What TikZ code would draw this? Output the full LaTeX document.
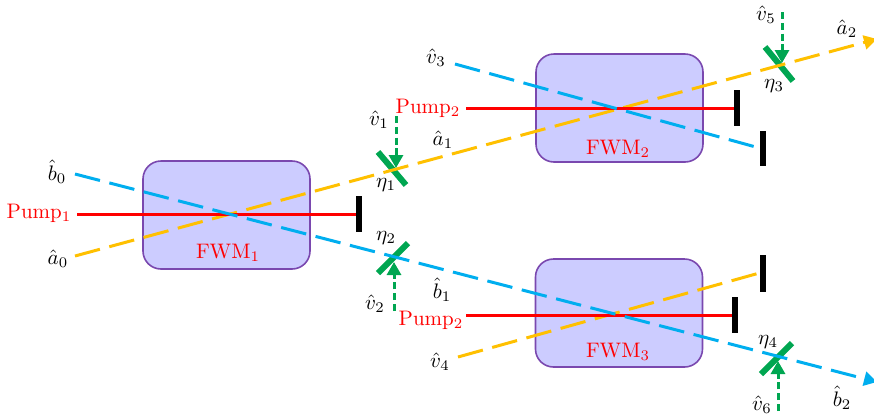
\documentclass[tikz,border=0pt]{standalone}
\usetikzlibrary{arrows.meta}
\definecolor{beamB}{RGB}{0,174,239}
\definecolor{beamY}{RGB}{255,192,0}
\definecolor{beamG}{RGB}{0,166,81}
\definecolor{boxF}{RGB}{204,204,255}
\definecolor{boxD}{RGB}{122,72,175}
\tikzset{
  x=0.5pt,y=-0.5pt,
  crystal/.style={draw=boxD,fill=boxF,line width=0.8pt,rounded corners=9pt,minimum width=83.5pt,minimum height=54pt,inner sep=0pt},
  blue beam/.style={beamB,line width=1.5pt,dash pattern=on 12.9pt off 4.85pt},
  yellow beam/.style={beamY,line width=1.5pt,dash pattern=on 12.9pt off 4.85pt},
  pump beam/.style={red,line width=1.5pt},
  vac/.style={beamG,line width=1.5pt,dash pattern=on 3.6pt off 1.8pt,-{Triangle[length=6.5pt,width=7pt,fill=beamG]}},
  mirror/.style={beamG,line width=3pt},
  block/.style={black,line width=3pt},
  lab/.style={inner sep=0pt,scale=1.05},
  redlab/.style={lab,text=red},
}
\begin{document}
\begin{tikzpicture}
\useasboundingbox (0,0) rectangle (874,414);
% crystals
\node[crystal] (F1) at (226.5,215) {};
\node[crystal] (F2) at (619.5,108) {};
\node[crystal] (F3) at (619,313) {};
\node[redlab] (F1t) at (228,253) {FWM$_1$};
\node[redlab] (F2t) at (618,149) {FWM$_2$};
\node[redlab] (F3t) at (618,352) {FWM$_3$};
% end points
\coordinate (b0) at (75,174);
\coordinate (b2) at (877,382);
\coordinate (a0) at (75,256);
\coordinate (a2) at (877,39);
\coordinate (p1s) at (77,214);
\coordinate (v3s) at (455,64);
\coordinate (v4s) at (458,357);
\coordinate (p2s) at (466,108);
\coordinate (p3s) at (466,315);
% blocks
\coordinate (W1a) at (358.5,196); \coordinate (W1b) at (358.5,232);
\coordinate (W1) at (358.5,214);
\coordinate (W2a) at (737,90); \coordinate (W2b) at (737,126);
\coordinate (W2) at (737,108);
\coordinate (W3a) at (763,131); \coordinate (W3b) at (763,166);
\coordinate (W3) at (763,149);
\coordinate (W4a) at (763,255); \coordinate (W4b) at (763,292);
\coordinate (W4) at (763,272);
\coordinate (W5a) at (735,297); \coordinate (W5b) at (735,333);
\coordinate (W5) at (735,315);
% mirrors
\coordinate (M1a) at (378,152); \coordinate (M1b) at (406,185);
\coordinate (M2a) at (378,273); \coordinate (M2b) at (408,243);
\coordinate (M3a) at (765,47);  \coordinate (M3b) at (793,81);
\coordinate (M4a) at (761,374); \coordinate (M4b) at (792,343);
% vacuum inputs
\coordinate (v1s) at (396,116); \coordinate (v1e) at (396,168);
\coordinate (v2s) at (394,311); \coordinate (v2e) at (394,262);
\coordinate (v5s) at (782,12);  \coordinate (v5e) at (782,63);
\coordinate (v6s) at (778,411); \coordinate (v6e) at (778,361);
% mirrors below the beams
\draw[mirror] (M1a) -- (M1b);
\draw[mirror] (M2a) -- (M2b);
\draw[mirror] (M3a) -- (M3b);
\draw[mirror] (M4a) -- (M4b);
% beams
\draw[yellow beam,-{Triangle[length=6.5pt,width=7pt,fill=beamY]}] (a0) -- (a2);
\draw[yellow beam] (v4s) -- (W4);
\draw[pump beam] (p1s) -- (W1);
\draw[pump beam] (p2s) -- (W2);
\draw[pump beam] (p3s) -- (W5);
\draw[blue beam,-{Triangle[length=6.5pt,width=7pt,fill=beamB]}] (b0) -- (b2);
\draw[blue beam] (v3s) -- (W3);
% blocks
\draw[block] (W1a) -- (W1b);
\draw[block] (W2a) -- (W2b);
\draw[block] (W3a) -- (W3b);
\draw[block] (W4a) -- (W4b);
\draw[block] (W5a) -- (W5b);
\draw[vac] (v1s) -- (v1e);
\draw[vac] (v2s) -- (v2e);
\draw[vac] (v5s) -- (v5e);
\draw[vac] (v6s) -- (v6e);
% labels
\node[redlab] (Lp1) at (39,213) {Pump$_1$};
\node[redlab] (Lp2) at (428,108) {Pump$_2$};
\node[redlab] (Lp3) at (431,320) {Pump$_2$};
\node[lab] (Lb0) at (57,172) {$\hat{b}_0$};
\node[lab] (La0) at (58,259) {$\hat{a}_0$};
\node[lab] (Lv1) at (379,120) {$\hat{v}_1$};
\node[lab] (La1) at (443,140) {$\hat{a}_1$};
\node[lab] (Le1) at (386,185) {$\eta_1$};
\node[lab] (Le2) at (386,238) {$\eta_2$};
\node[lab] (Lv2) at (375,304) {$\hat{v}_2$};
\node[lab] (Lb1) at (442,290) {$\hat{b}_1$};
\node[lab] (Lv3) at (436,58) {$\hat{v}_3$};
\node[lab] (Lv4) at (440,362) {$\hat{v}_4$};
\node[lab] (Lv5) at (766,15) {$\hat{v}_5$};
\node[lab] (La2) at (847,29) {$\hat{a}_2$};
\node[lab] (Le3) at (774,86) {$\eta_3$};
\node[lab] (Le4) at (768,342) {$\eta_4$};
\node[lab] (Lv6) at (762,405) {$\hat{v}_6$};
\node[lab] (Lb2) at (842,398) {$\hat{b}_2$};
\end{tikzpicture}
\end{document}
